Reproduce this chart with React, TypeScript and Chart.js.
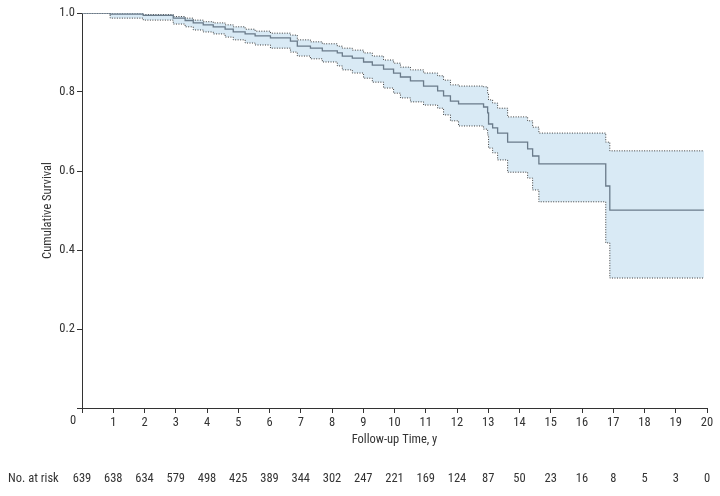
import React, { useEffect, useRef } from "react";
import { Chart, registerables } from "chart.js";

Chart.register(...registerables);

const FAMILY = "Roboto, 'Liberation Sans', sans-serif";
const STRETCH = "condensed";
const SIZE = 12.5;
const TEXT = "#333333";

const years = [0, 0.9, 1.96, 2.92, 3.3, 3.56, 3.88, 4.2, 4.58, 4.84, 5.22, 5.54, 6.03, 6.67, 6.89, 7.31, 7.69, 8.17, 8.33, 8.65, 9.01, 9.29, 9.65, 9.97, 10.19, 10.51, 10.93, 11.38, 11.57, 11.79, 12.05, 12.85, 12.98, 13.01, 13.14, 13.3, 13.62, 14.26, 14.42, 14.62, 16.76, 16.89, 19.9];
const survival = [1.0, 0.997, 0.994, 0.987, 0.981, 0.975, 0.97, 0.965, 0.959, 0.952, 0.947, 0.942, 0.937, 0.929, 0.916, 0.911, 0.904, 0.899, 0.891, 0.886, 0.876, 0.868, 0.858, 0.848, 0.838, 0.828, 0.815, 0.803, 0.79, 0.777, 0.77, 0.762, 0.747, 0.719, 0.709, 0.696, 0.673, 0.656, 0.638, 0.618, 0.562, 0.501, 0.501];
const upperCI = [1.0, 1.0, 0.996, 0.991, 0.987, 0.982, 0.978, 0.975, 0.97, 0.965, 0.959, 0.954, 0.949, 0.944, 0.932, 0.927, 0.922, 0.916, 0.911, 0.906, 0.899, 0.891, 0.881, 0.873, 0.863, 0.856, 0.848, 0.841, 0.83, 0.818, 0.815, 0.813, 0.797, 0.78, 0.772, 0.759, 0.737, 0.727, 0.711, 0.696, 0.673, 0.651, 0.651];
const lowerCI = [1.0, 0.987, 0.982, 0.972, 0.965, 0.957, 0.952, 0.947, 0.939, 0.932, 0.924, 0.919, 0.911, 0.901, 0.891, 0.884, 0.876, 0.866, 0.856, 0.848, 0.835, 0.825, 0.81, 0.797, 0.785, 0.775, 0.767, 0.759, 0.742, 0.727, 0.714, 0.706, 0.691, 0.658, 0.646, 0.628, 0.597, 0.582, 0.552, 0.522, 0.418, 0.329, 0.329];

const riskTimes = [0, 1, 2, 3, 4, 5, 6, 7, 8, 9, 10, 11, 12, 13, 14, 15, 16, 17, 18, 19, 20];
const atRisk = [639, 638, 634, 579, 498, 425, 389, 344, 302, 247, 221, 169, 124, 87, 50, 23, 16, 8, 5, 3, 0];

const X_TITLE = "Follow-up Time, y";
const Y_TITLE = "Cumulative Survival";
const RISK_LABEL = "No. at risk";

const toPts = (ys: number[]) => years.map((t, i) => ({ x: t, y: ys[i] }));
const font = () => ({ family: FAMILY, size: SIZE, weight: STRETCH as any });

const extraText = {
  id: "extraText",
  afterDraw(chart: any) {
    const ctx = chart.ctx;
    const xs = chart.scales.x;
    ctx.save();
    ctx.font = `${STRETCH} ${SIZE}px ${FAMILY}`;
    ctx.fillStyle = TEXT;
    ctx.textBaseline = "middle";
    ctx.textAlign = "center";
    ctx.fillText("0", xs.getPixelForValue(0) - 9, xs.top + 13);
    ctx.textAlign = "left";
    ctx.fillText(RISK_LABEL, 8, 479);
    ctx.textAlign = "center";
    riskTimes.forEach((t, i) => {
      ctx.fillText(String(atRisk[i]), xs.getPixelForValue(t), 479);
    });
    ctx.restore();
  },
};

export default function App() {
  const ref = useRef<HTMLCanvasElement | null>(null);
  useEffect(() => {
    document.body.style.margin = "0";
    if (!ref.current) return;
    const chart = new Chart(ref.current, {
      type: "line",
      data: {
        datasets: [
          {
            label: "Survival",
            data: toPts(survival),
            stepped: true,
            borderColor: "#6a7b8a",
            borderWidth: 1.3,
            pointRadius: 0,
            fill: false,
          },
          {
            label: "Upper",
            data: toPts(upperCI),
            stepped: true,
            borderColor: "#3a3a3a",
            borderWidth: 1,
            borderDash: [1, 1.5],
            pointRadius: 0,
            fill: "+1",
            backgroundColor: "#d9eaf5",
          },
          {
            label: "Lower",
            data: toPts(lowerCI),
            stepped: true,
            borderColor: "#3a3a3a",
            borderWidth: 1,
            borderDash: [1, 1.5],
            pointRadius: 0,
            fill: false,
          },
        ],
      },
      options: {
        responsive: false,
        animation: false,
        layout: { padding: { left: 36, top: 13, right: 13, bottom: 45 } },
        plugins: {
          legend: { display: false },
          tooltip: { enabled: false },
          filler: { drawTime: "beforeDatasetsDraw" } as any,
        },
        scales: {
          x: {
            type: "linear",
            min: 0,
            max: 20,
            afterFit: (s: any) => {
              s.height = 43;
            },
            ticks: {
              stepSize: 1,
              font: font(),
              color: TEXT,
              padding: 2,
              maxRotation: 0,
              callback: (v: any) => (v === 0 ? "" : String(v)),
            },
            grid: { drawOnChartArea: false, tickLength: 5, color: TEXT },
            border: { color: TEXT, width: 1 },
            title: { display: true, text: X_TITLE, font: font(), color: TEXT },
          },
          y: {
            type: "linear",
            min: 0,
            max: 1,
            afterFit: (s: any) => {
              s.width = 46;
            },
            ticks: {
              stepSize: 0.2,
              font: font(),
              color: TEXT,
              padding: 2,
              callback: (v: any) => (v === 0 ? "" : Number(v).toFixed(1)),
            },
            grid: { drawOnChartArea: false, tickLength: 5, color: TEXT },
            border: { color: TEXT, width: 1 },
            title: { display: true, text: Y_TITLE, font: font(), color: TEXT },
          },
        },
      },
      plugins: [extraText],
    });
    return () => chart.destroy();
  }, []);
  return (
    <div style={{ width: 720, height: 496 }}>
      <canvas ref={ref} width={720} height={496} style={{ display: "block" }} />
    </div>
  );
}
